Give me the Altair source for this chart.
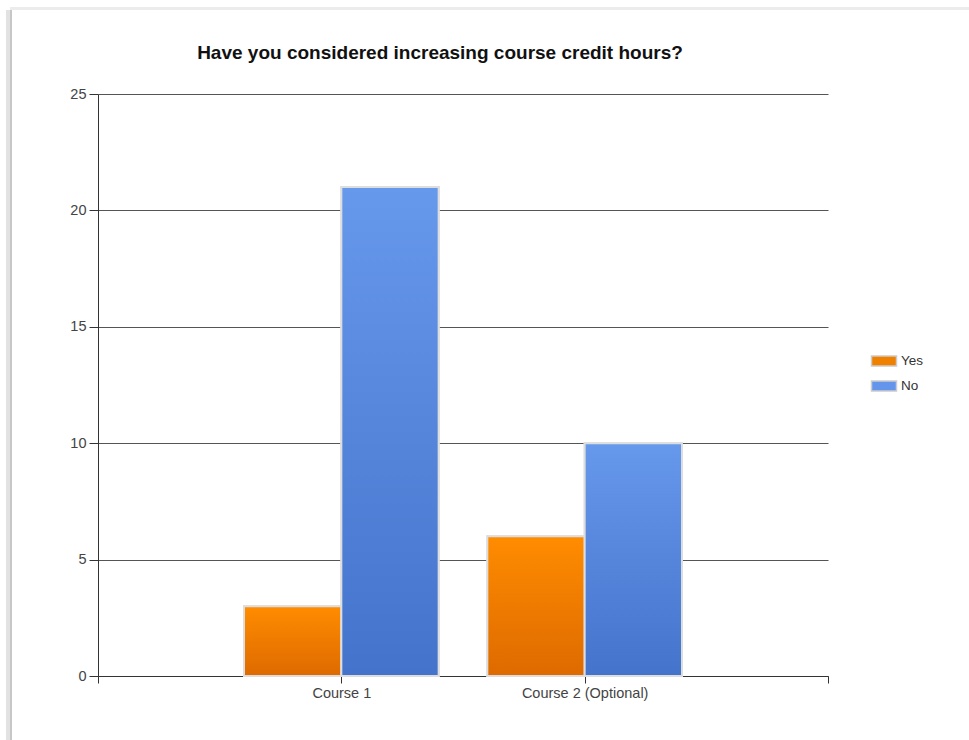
import altair as alt
import pandas as pd

categories = ["Course 1", "Course 2 (Optional)"]
series = ["Yes", "No"]
yes_values = [3, 6]
no_values = [21, 10]

rows = []
for ci, cat in enumerate(categories):
    for si, (s, vals) in enumerate(zip(series, [yes_values, no_values])):
        rows.append({"category": cat, "cat_idx": ci, "series": s, "ser_idx": si, "value": vals[ci]})
df = pd.DataFrame(rows)

FONT = "Liberation Sans"
GROUP = 0.8
BAR = GROUP / len(series)

label_expr = " : ".join(
    [f"datum.value == {i + 1} ? '{c}'" for i, c in enumerate(categories)]
) + " : ''"

base = alt.Chart(df).transform_calculate(
    x0=f"datum.cat_idx + 1 - {GROUP / 2} + datum.ser_idx * {BAR}",
    x1=f"datum.cat_idx + 1 - {GROUP / 2} + (datum.ser_idx + 1) * {BAR}",
    base="0",
)

x_enc = alt.X(
    "x0:Q",
    scale=alt.Scale(domain=[0, len(categories) + 1], nice=False, zero=False, padding=0),
    axis=alt.Axis(
        title=None, values=list(range(len(categories) + 2)), labelExpr=label_expr,
        grid=False, domainColor="#333333", tickColor="#333333", tickSize=7,
        labelFont=FONT, labelFontSize=14.5, labelColor="#444444", labelPadding=3,
    ),
)
y_enc = alt.Y(
    "value:Q",
    scale=alt.Scale(domain=[0, 25], nice=False, padding=0),
    axis=alt.Axis(
        title=None, values=[0, 5, 10, 15, 20, 25], grid=True, gridColor="#555555",
        gridWidth=1, domainColor="#333333", tickColor="#333333", tickSize=9,
        labelFont=FONT, labelFontSize=14.5, labelColor="#444444", labelPadding=3,
    ),
)

legend_layer = base.mark_bar(stroke="#DDDDDD", strokeWidth=2).encode(
    x=x_enc,
    x2="x1:Q",
    y=y_enc,
    y2="base:Q",
    color=alt.Color(
        "series:N",
        scale=alt.Scale(domain=series, range=["#F08000", "#6495ED"]),
        legend=alt.Legend(
            title=None, orient="none", legendX=775, legendY=256,
            symbolType="M-1.25,-0.5H1.25V0.5H-1.25Z", symbolSize=400,
            symbolStrokeColor="#CCCCCC", symbolStrokeWidth=1.5,
            labelFont=FONT, labelFontSize=13.5, labelColor="#333333",
            rowPadding=6, labelOffset=6,
        ),
    ),
)

grad_colors = {
    "Yes": ("#FF8C00", "#DE6A00"),
    "No": ("#6698EC", "#4473CB"),
}
grad_layers = []
for s in series:
    top, bottom = grad_colors[s]
    grad_layers.append(
        base.transform_filter(alt.datum.series == s).mark_bar(
            fill=alt.Gradient(
                gradient="linear",
                stops=[alt.GradientStop(color=top, offset=0), alt.GradientStop(color=bottom, offset=1)],
                x1=0, x2=0, y1=0, y2=1,
            ),
            stroke="#DDDDDD", strokeWidth=2,
        ).encode(x="x0:Q", x2="x1:Q", y="value:Q", y2="base:Q")
    )

# decorative page frame (shadowed border of the original screenshot)
frame_src = alt.Chart(pd.DataFrame({"k": [0]}))
frame_layers = [
    frame_src.mark_rule(color="#E2E2E2", strokeWidth=4).encode(
        x=alt.value(-90), y=alt.value(-84), y2=alt.value(646)),
    frame_src.mark_rule(color="#B4B4B4", strokeWidth=1.5).encode(
        x=alt.value(-87), y=alt.value(-84), y2=alt.value(646)),
    frame_src.mark_rule(color="#ECECEC", strokeWidth=3).encode(
        y=alt.value(-85.5), x=alt.value(-88), x2=alt.value(871)),
]

chart = alt.layer(*frame_layers, legend_layer, *grad_layers).properties(
    width=730,
    height=582,
    autosize=alt.AutoSizeParams(type="none"),
    padding={"left": 98, "top": 94, "right": 141, "bottom": 64},
    background="white",
    title=alt.Title(
        "Have you considered increasing course credit hours?",
        font=FONT, fontSize=19, fontWeight="bold", color="#111111",
        anchor="middle", dx=-23, offset=-56,
    ),
).configure_view(stroke=None).configure_scale(continuousPadding=0)

chart.save("out.html", embed_options={"renderer": "svg", "actions": False})
